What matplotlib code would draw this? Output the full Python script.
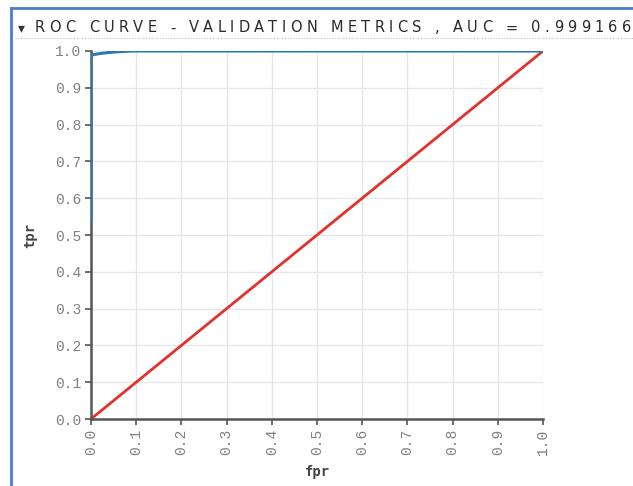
import matplotlib
matplotlib.use("Agg")
import matplotlib.pyplot as plt
from matplotlib.lines import Line2D
from matplotlib.font_manager import FontProperties

# ROC curve values
fpr = [0.0, 0.0, 0.004, 0.02, 0.04, 0.06, 0.09, 1.0]
tpr = [0.54, 0.985, 0.99, 0.993, 0.996, 0.998, 1.0, 1.0]
diag_x = [0.0, 1.0]
diag_y = [0.0, 1.0]
ticks = [round(0.1 * i, 1) for i in range(11)]
tick_labels = ["%.1f" % t for t in ticks]
title = "ROC CURVE - VALIDATION METRICS , AUC = 0.999166"

W, H = 633, 486
fig = plt.figure(figsize=(W / 100, H / 100), dpi=100)
fig.patch.set_facecolor("white")

ax = fig.add_axes([91 / W, 1 - 419 / H, 452 / W, 368 / H])
ax.plot(diag_x, diag_y, color="#e2322b", lw=2, zorder=3)
ax.plot(fpr, tpr, color="#2b79ad", lw=2.2, zorder=6)

ax.set_xlim(0, 1)
ax.set_ylim(0, 1)
ax.set_xticks(ticks)
ax.set_yticks(ticks)
ax.set_xticklabels(tick_labels, rotation=90)
ax.set_yticklabels(tick_labels)
for lab in ax.get_xticklabels() + ax.get_yticklabels():
    lab.set_family("Liberation Mono")
    lab.set_fontsize(10.5)
    lab.set_color("#808080")
ax.tick_params(length=4, width=1.2, color="#555555", pad=3)
ax.grid(True, color="#e6e6e6", lw=1)
ax.set_axisbelow(True)
for s in ["top", "right"]:
    ax.spines[s].set_visible(False)
for s in ["left", "bottom"]:
    ax.spines[s].set_color("#555555")
    ax.spines[s].set_linewidth(1.8)
    ax.spines[s].set_zorder(5)

ax.set_xlabel("fpr", family="DejaVu Sans Mono", fontweight="bold",
              fontsize=10, color="#444444")
ax.set_ylabel("tpr", family="DejaVu Sans Mono", fontweight="bold",
              fontsize=10, color="#444444")
ax.xaxis.set_label_coords(0.5, -0.125)
ax.yaxis.set_label_coords(-0.12, 0.5)

# blue panel frame
fig.add_artist(Line2D([11 / W, 1], [1 - 8 / H, 1 - 8 / H], color="#4a7fc4", lw=2))
fig.add_artist(Line2D([11 / W, 11 / W], [0, 1 - 8 / H], color="#4a7fc4", lw=2))
# dotted rule under title
fig.add_artist(Line2D([15 / W, 1], [1 - 38 / H, 1 - 38 / H], color="#bbbbbb",
                      lw=0.8, ls=(0, (1, 1.5))))

# title, letter spaced
fig.text(21 / W, 1 - 28 / H, "\u25be", fontsize=10, color="#333333",
         ha="center", va="center")
renderer = fig.canvas.get_renderer()
fp = FontProperties(family="DejaVu Sans", size=10.5)
widths = [renderer.get_text_width_height_descent(c, fp, ismath=False)[0] for c in title]
x0, x1 = 35, 631
gap = (x1 - x0 - sum(widths)) / (len(title) - 1)
x = x0
for c, w in zip(title, widths):
    fig.text(x / W, 1 - 28 / H, c, fontproperties=fp, color="#2a2a2a",
             ha="left", va="center")
    x += w + gap

fig.savefig("out.png", dpi=100)
